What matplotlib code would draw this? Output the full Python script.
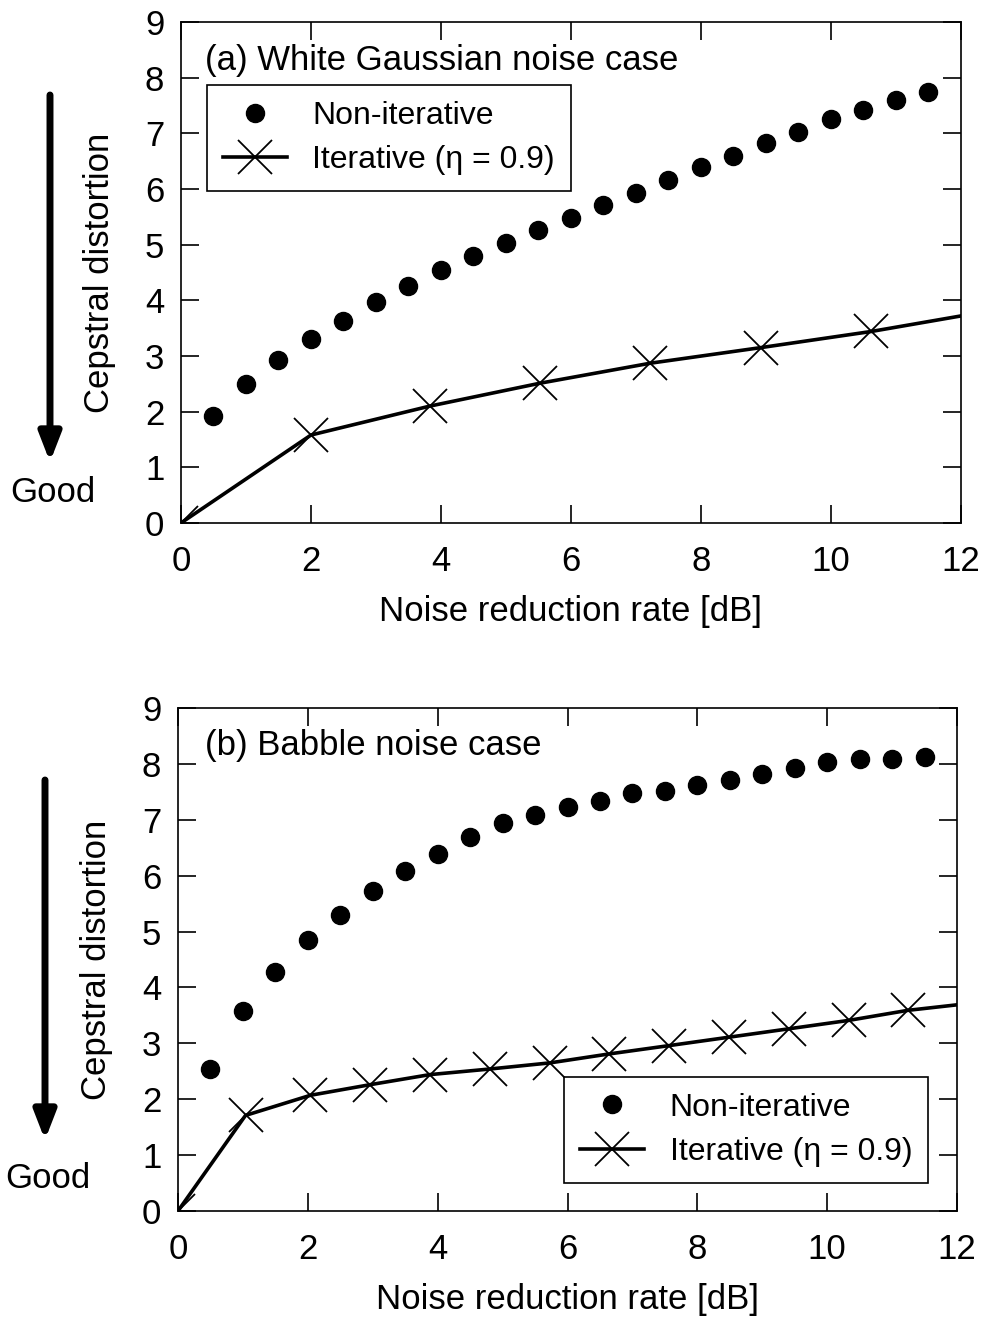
import matplotlib
matplotlib.use("Agg")
import matplotlib.pyplot as plt
from matplotlib.patches import FancyArrowPatch

plt.rcParams['font.family'] = ['Liberation Sans', 'DejaVu Sans']

# (a) White Gaussian noise
wgn_noniter_x = [0.5, 1.0, 1.5, 2.0, 2.5, 3.0, 3.5, 4.0, 4.5, 5.0, 5.5, 6.0,
                 6.5, 7.0, 7.5, 8.0, 8.5, 9.0, 9.5, 10.0, 10.5, 11.0, 11.5]
wgn_noniter_y = [1.92, 2.50, 2.93, 3.30, 3.63, 3.97, 4.26, 4.54, 4.79, 5.03, 5.27, 5.47,
                 5.71, 5.92, 6.16, 6.39, 6.60, 6.82, 7.03, 7.25, 7.41, 7.60, 7.75]
wgn_iter_x = [0.0, 2.0, 3.83, 5.52, 7.22, 8.92, 10.62, 12.3]
wgn_iter_y = [0.0, 1.58, 2.10, 2.51, 2.87, 3.15, 3.44, 3.78]

# (b) Babble noise
bab_noniter_x = wgn_noniter_x
bab_noniter_y = [2.54, 3.57, 4.28, 4.85, 5.29, 5.72, 6.08, 6.38, 6.69, 6.95, 7.09, 7.23,
                 7.33, 7.48, 7.51, 7.63, 7.71, 7.82, 7.93, 8.03, 8.08, 8.09, 8.12]
bab_iter_x = [0.0, 1.04, 2.04, 2.96, 3.88, 4.80, 5.73, 6.64, 7.57, 8.49, 9.41, 10.33, 11.24, 12.16]
bab_iter_y = [0.0, 1.71, 2.07, 2.26, 2.44, 2.54, 2.65, 2.81, 2.96, 3.11, 3.26, 3.41, 3.59, 3.71]

xticks = [0, 2, 4, 6, 8, 10, 12]
yticks = list(range(10))

fig = plt.figure(figsize=(9.9, 13.22), dpi=100)
ax1 = fig.add_axes([0.1828, 0.6044, 0.7879, 0.3790])
ax2 = fig.add_axes([0.1798, 0.0840, 0.7869, 0.3804])

FS = 25
LFS = 23

def style(ax, title, tpos):
    ax.set_xlim(0, 12)
    ax.set_ylim(0, 9)
    ax.set_xticks(xticks)
    ax.set_yticks(yticks)
    ax.tick_params(direction='in', length=13, width=1.2, top=True, right=True,
                   labelsize=FS)
    ax.tick_params(axis='x', pad=16)
    ax.tick_params(axis='y', pad=12)
    for s in ax.spines.values():
        s.set_linewidth(1.2)
    ax.set_xlabel('Noise reduction rate [dB]', fontsize=FS, labelpad=12)
    ax.set_ylabel('Cepstral distortion', fontsize=FS)
    ax.yaxis.set_label_coords(-0.083, 0.5)
    ax.text(tpos[0], tpos[1], title, transform=ax.transAxes, fontsize=FS,
            ha='left', va='center')

def draw(ax, nx, ny, ix, iy):
    ax.plot(nx, ny, 'o', color='black', markersize=13, linestyle='none',
            label='Non-iterative', clip_on=False)
    ax.plot(ix, iy, '-', color='black', lw=2.6, marker='x', markersize=24,
            markeredgewidth=1.3, markevery=list(range(len(ix) - 1)),
            label='Iterative (\u03b7 = 0.9)')

def legend(ax, loc, anchor):
    leg = ax.legend(loc=loc, bbox_to_anchor=anchor, fontsize=LFS, borderaxespad=0,
                    frameon=True, fancybox=False, edgecolor='black', framealpha=1,
                    handlelength=2.0, borderpad=0.5, labelspacing=0.45,
                    handletextpad=0.8)
    leg.get_frame().set_linewidth(1.2)

draw(ax1, wgn_noniter_x, wgn_noniter_y, wgn_iter_x, wgn_iter_y)
style(ax1, '(a) White Gaussian noise case', (0.031, 0.924))
legend(ax1, 'upper left', (0.0333, 0.874))

draw(ax2, bab_noniter_x, bab_noniter_y, bab_iter_x, bab_iter_y)
style(ax2, '(b) Babble noise case', (0.035, 0.926))
legend(ax2, 'lower right', (0.963, 0.0557))

# "Good" arrows
H = 1322
for x, y0, y1, gy in [(50, 95, 462, 492), (45, 780, 1140, 1178)]:
    fig.add_artist(FancyArrowPatch(
        (x / 990, 1 - y0 / H), (x / 990, 1 - y1 / H), transform=fig.transFigure,
        arrowstyle='-|>,head_width=0.33,head_length=0.85', mutation_scale=20,
        lw=5, color='black', shrinkA=0, shrinkB=0))
    fig.text(x / 990 + 0.003, 1 - gy / H, 'Good', fontsize=FS, ha='center', va='center')

fig.savefig('out.png', dpi=100)
